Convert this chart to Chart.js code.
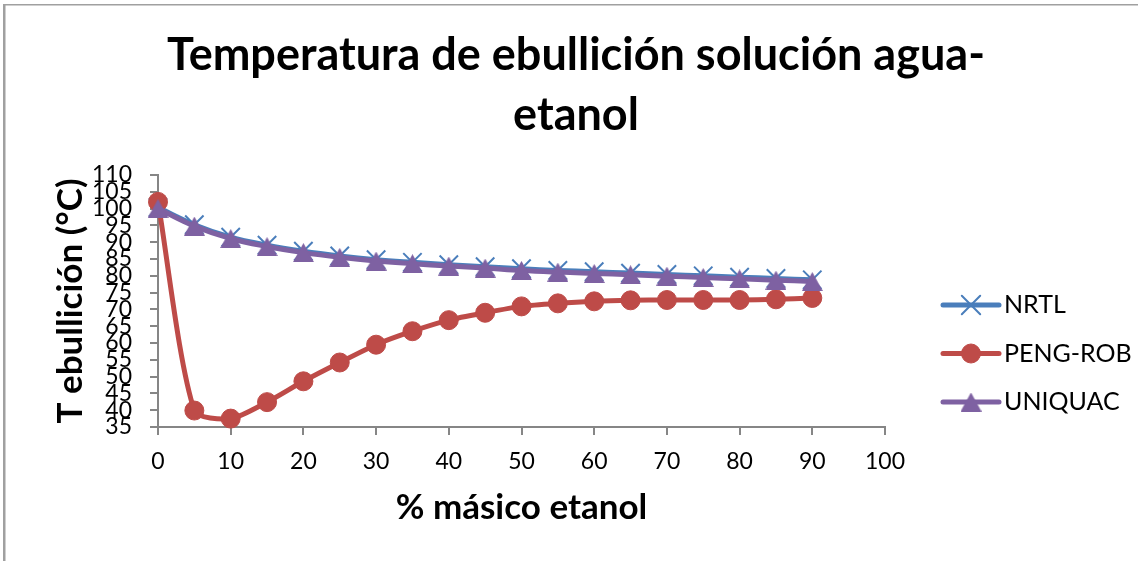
<!DOCTYPE html>
<html>
<head>
<meta charset="utf-8">
<script src="https://cdn.jsdelivr.net/npm/chart.js@4.4.0/dist/chart.umd.min.js"></script>
<style>
  html, body { margin: 0; padding: 0; background: #ffffff; }
  canvas { display: block; }
</style>
</head>
<body>
<canvas id="grafico" width="1138" height="561"></canvas>
<script>
// Texts
const chartTitle = ['Temperatura de ebullición solución agua-', 'etanol'];
const xAxisTitle = '% másico etanol';
const yAxisTitle = 'T ebullición (°C)';
const seriesNames = ['NRTL', 'PENG-ROB', 'UNIQUAC'];

// % másico de etanol (eje x)
const masicoEtanol = [0, 5, 10, 15, 20, 25, 30, 35, 40, 45, 50, 55, 60, 65, 70, 75, 80, 85, 90];

// Temperatura de ebullición (°C) por modelo
const tNRTL    = [100.3, 95.2, 91.5, 89.1, 87.3, 85.9, 84.8, 84.0, 83.3, 82.7, 82.1, 81.6, 81.2, 80.8, 80.4, 80.0, 79.6, 79.2, 78.8];
const tPengRob = [102.0, 39.9, 37.5, 42.4, 48.6, 54.2, 59.5, 63.5, 66.8, 69.0, 70.9, 71.8, 72.4, 72.7, 72.8, 72.8, 72.8, 73.0, 73.4];
const tUniquac = [100.0, 94.8, 91.1, 88.7, 86.9, 85.5, 84.4, 83.6, 82.9, 82.3, 81.6, 81.1, 80.7, 80.3, 79.9, 79.5, 79.1, 78.7, 78.3];

// Axis ranges
const xRange = { min: 0, max: 100, step: 10 };
const yRange = { min: 35, max: 110, step: 5 };

const BLUE = '#4a7ebb';
const RED = '#be4b48';
const PURPLE = '#7e61a2';
const AXIS_GREY = '#868686';
const FONT = 'Lato, "Open Sans", sans-serif';

function toPoints(values) {
  return masicoEtanol.map((x, i) => ({ x: x, y: values[i] }));
}

// Upward triangle whose bounding box is centred on the point
function triangleMarker(color, w, h) {
  const c = document.createElement('canvas');
  c.width = w; c.height = h;
  const g = c.getContext('2d');
  g.fillStyle = color;
  g.beginPath();
  g.moveTo(w / 2, 0);
  g.lineTo(w, h);
  g.lineTo(0, h);
  g.closePath();
  g.fill();
  return c;
}
const triangle = triangleMarker(PURPLE, 21, 19);

// Frame, title and legend drawn around the plot
const decorations = {
  id: 'decorations',
  beforeDraw(chart) {
    const ctx = chart.ctx;
    ctx.save();
    ctx.fillStyle = '#a0a0a0';
    ctx.fillRect(3, 4, 2.5, chart.height);
    ctx.fillRect(3, 4, chart.width, 1.5);
    ctx.restore();
  },
  afterDraw(chart) {
    const ctx = chart.ctx;
    const area = chart.chartArea;
    ctx.save();
    // title
    ctx.fillStyle = '#000';
    ctx.textAlign = 'center';
    ctx.textBaseline = 'alphabetic';
    ctx.font = 'bold 45px ' + FONT;
    chartTitle.forEach((line, i) => ctx.fillText(line, 576, 70 + i * 60));

    // legend
    const lx = area.right + 58;
    chart.data.datasets.forEach((ds, i) => {
      const y = 305 + i * 48.5;
      ctx.strokeStyle = ds.borderColor;
      ctx.lineWidth = 5;
      ctx.lineCap = 'round';
      ctx.beginPath();
      ctx.moveTo(lx, y);
      ctx.lineTo(lx + 56, y);
      ctx.stroke();
      ctx.fillStyle = ds.pointBackgroundColor;
      ctx.strokeStyle = ds.pointBorderColor;
      ctx.lineWidth = ds.pointBorderWidth;
      Chart.helpers.drawPoint(ctx, {
        pointStyle: ds.pointStyle,
        radius: ds.pointRadius,
        borderWidth: ds.pointBorderWidth,
        rotation: 0
      }, lx + 28, y);
      ctx.fillStyle = '#000';
      ctx.textAlign = 'left';
      ctx.textBaseline = 'middle';
      ctx.font = '25px ' + FONT;
      ctx.fillText(ds.label, lx + 61, y);
    });
    ctx.restore();
  }
};

const common = { borderWidth: 5, clip: false, fill: false };

new Chart(document.getElementById('grafico'), {
  type: 'line',
  data: {
    datasets: [
      Object.assign({}, common, {
        label: seriesNames[0], data: toPoints(tNRTL), tension: 0.4,
        borderColor: BLUE, backgroundColor: BLUE,
        pointStyle: 'crossRot', pointRadius: 13, pointBorderWidth: 2,
        pointBorderColor: BLUE, pointBackgroundColor: BLUE, order: 2
      }),
      Object.assign({}, common, {
        label: seriesNames[1], data: toPoints(tPengRob), tension: 0.25,
        borderColor: RED, backgroundColor: RED,
        pointStyle: 'circle', pointRadius: 9.5, pointBorderWidth: 1,
        pointBorderColor: RED, pointBackgroundColor: RED, order: 1
      }),
      Object.assign({}, common, {
        label: seriesNames[2], data: toPoints(tUniquac), tension: 0.4,
        borderColor: PURPLE, backgroundColor: PURPLE,
        pointStyle: triangle, pointRadius: 10, pointBorderWidth: 0,
        pointBorderColor: PURPLE, pointBackgroundColor: PURPLE, order: 0
      })
    ]
  },
  options: {
    responsive: false,
    animation: false,
    devicePixelRatio: 1,
    layout: { padding: { top: 175, right: 253, bottom: 0, left: 0 } },
    plugins: {
      legend: { display: false },
      title: { display: false },
      tooltip: { enabled: false }
    },
    scales: {
      x: {
        type: 'linear',
        min: xRange.min, max: xRange.max,
        ticks: { stepSize: xRange.step, autoSkip: false, color: '#000', font: { family: FONT, size: 23 }, padding: 13 },
        grid: { drawOnChartArea: false, drawTicks: true, tickLength: 8, color: AXIS_GREY, lineWidth: 2 },
        border: { color: AXIS_GREY, width: 2 },
        title: { display: true, text: xAxisTitle, color: '#000',
                 font: { family: FONT, size: 35, weight: 'bold' }, padding: { bottom: 32 } },
        afterFit(scale) { scale.height = 134; }
      },
      y: {
        type: 'linear',
        min: yRange.min, max: yRange.max,
        ticks: { stepSize: yRange.step, autoSkip: false, color: '#000', font: { family: FONT, size: 23 }, padding: 18 },
        grid: { drawOnChartArea: false, drawTicks: true, tickLength: 8, color: AXIS_GREY, lineWidth: 2 },
        border: { color: AXIS_GREY, width: 2 },
        title: { display: true, text: yAxisTitle, color: '#000',
                 font: { family: FONT, size: 35, weight: 'bold' }, padding: { top: 50 } },
        afterFit(scale) { scale.width = 158; }
      }
    }
  },
  plugins: [decorations]
});
</script>
</body>
</html>
